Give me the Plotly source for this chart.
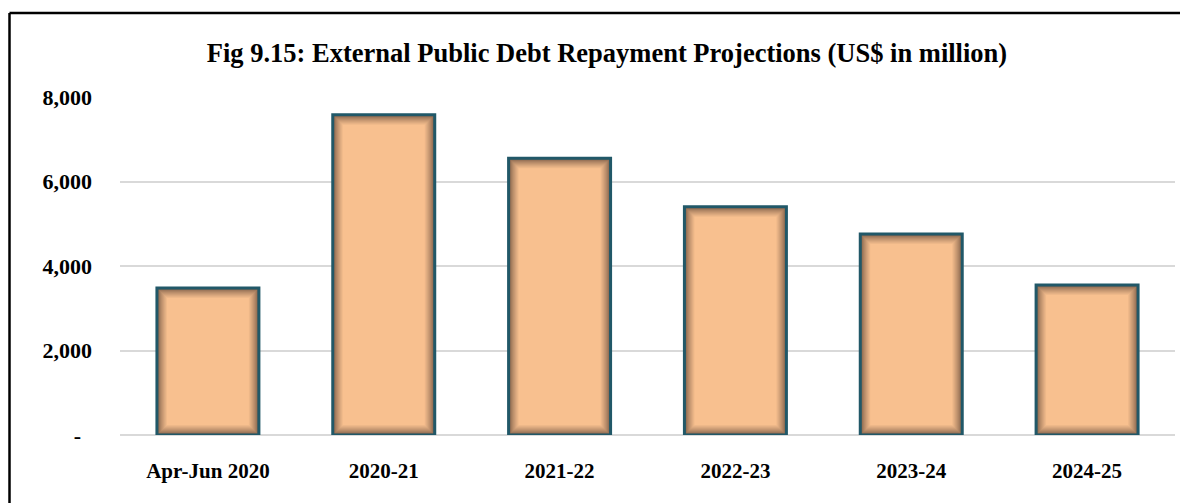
import plotly.graph_objects as go

categories = ["Apr-Jun 2020", "2020-21", "2021-22", "2022-23", "2023-24", "2024-25"]
values = [3480, 7580, 6550, 5400, 4760, 3550]
tick_vals = [0, 2000, 4000, 6000, 8000]
tick_text = ["-\u00a0\u00a0", "2,000", "4,000", "6,000", "8,000"]
title_text = "Fig 9.15: External Public Debt Repayment Projections (US$ in million)"

# page has an 8px body margin, so the figure is drawn 8px smaller and shifted
OFF = 8
W, H = 1188 - OFF, 503 - OFF
ML, MR, MT, MB = 120 - OFF, 13, 97 - OFF, 68
plot_w = W - ML - MR
plot_h = H - MT - MB
ymax = 8000
px_x = 1.0 / (plot_w / len(categories))  # category units per pixel
px_y = ymax / plot_h                     # data units per pixel

bar_w = 0.58
shadow_rgb = (140, 105, 80)
fill_rgb = (248, 192, 143)

fig = go.Figure()
fig.add_trace(go.Bar(
    x=categories, y=values, width=bar_w,
    marker=dict(color="rgb(%d,%d,%d)" % shadow_rgb, line=dict(color="#215868", width=3)),
    hoverinfo="x+y", showlegend=False,
))
N = 9
for k in range(1, N + 1):
    t = (k / N) ** 0.8
    c = tuple(int(round(shadow_rgb[i] + (fill_rgb[i] - shadow_rgb[i]) * t)) for i in range(3))
    inset = k * 1.0 + 1.0
    fig.add_trace(go.Bar(
        x=categories,
        y=[v - 2 * inset * px_y for v in values],
        base=[inset * px_y] * len(values),
        width=bar_w - 2 * inset * px_x,
        marker=dict(color="rgb(%d,%d,%d)" % c, line=dict(width=0)),
        hoverinfo="skip", showlegend=False,
    ))

top_px = 13 - OFF
left_px = 9.5 - OFF
fig.update_layout(
    width=W, height=H,
    margin=dict(l=ML, r=MR, t=MT, b=MB),
    barmode="overlay",
    paper_bgcolor="white", plot_bgcolor="white",
    font=dict(family="Liberation Serif", color="black"),
    title=dict(text="<b>" + title_text + "</b>", x=(607 - OFF) / W, xanchor="center",
               y=1 - (53 - OFF) / H, yanchor="middle", yref="container",
               font=dict(family="Liberation Serif", size=26.5, color="black")),
    xaxis=dict(showgrid=False, showline=False, ticks="",
               tickvals=categories, ticktext=["<b>" + c + "</b>" for c in categories],
               tickfont=dict(size=21, family="Liberation Serif"),
               ticklabelstandoff=21),
    yaxis=dict(range=[0, ymax], tickvals=tick_vals, ticktext=["<b>" + t + "</b>" for t in tick_text],
               showgrid=True, gridcolor="#d9d9d9", gridwidth=1.5,
               zeroline=True, zerolinecolor="#d9d9d9", zerolinewidth=1.5,
               showline=False, ticks="", ticklabelstandoff=27,
               tickfont=dict(size=22, family="Liberation Serif")),
    shapes=[
        dict(type="line", xref="paper", yref="paper",
             x0=(left_px - ML) / plot_w, x1=(W + 5 - ML) / plot_w,
             y0=(H - MB - top_px) / plot_h, y1=(H - MB - top_px) / plot_h,
             line=dict(color="black", width=2.5)),
        dict(type="line", xref="paper", yref="paper",
             x0=(left_px - ML) / plot_w, x1=(left_px - ML) / plot_w,
             y0=(H - MB - top_px) / plot_h, y1=(H - MB - H - 5) / plot_h,
             line=dict(color="black", width=2.5)),
    ],
)

fig.write_html("out.html")
